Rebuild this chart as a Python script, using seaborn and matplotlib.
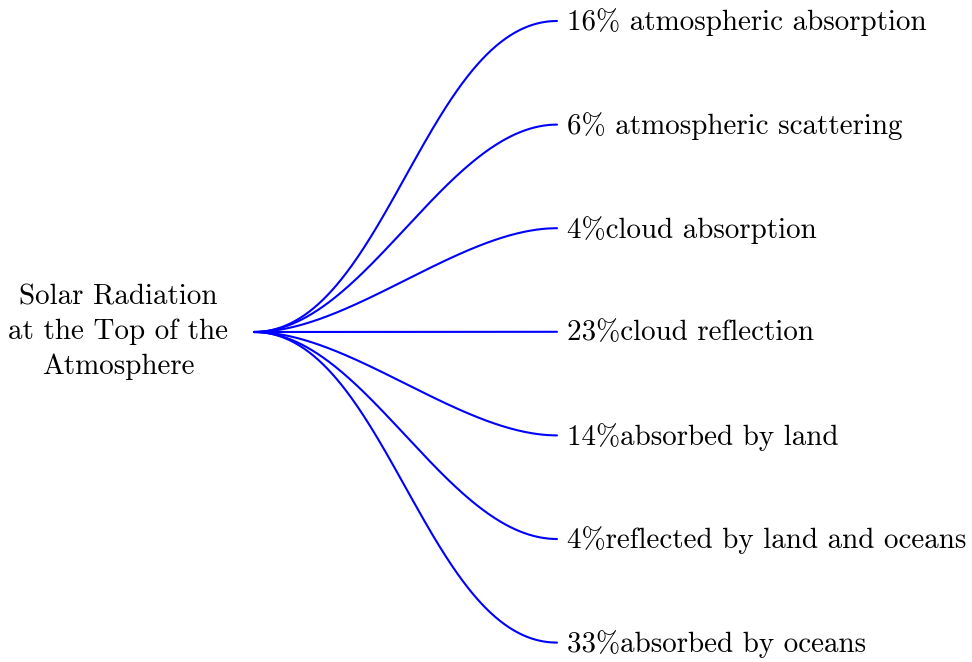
import numpy as np
import pandas as pd
import matplotlib.pyplot as plt
import seaborn as sns

# shares of the incoming solar radiation and where they go
percents = [16, 6, 4, 23, 14, 4, 33]
labels = ["16% atmospheric absorption",
          "6% atmospheric scattering",
          "4%cloud absorption",
          "23%cloud reflection",
          "14%absorbed by land",
          "4%reflected by land and oceans",
          "33%absorbed by oceans"]
root_label = "Solar Radiation\nat the Top of the\nAtmosphere"

# layout in pixel units
root_x, root_y = 254, 332
leaf_x = 557
leaf_top, leaf_step = 21, 103.6


def bezier(p0, p3, looseness=0.3):
    # tikz style "out=0, in=180" curve
    d = looseness * np.hypot(p3[0] - p0[0], p3[1] - p0[1])
    p1 = (p0[0] + d, p0[1])
    p2 = (p3[0] - d, p3[1])
    t = np.linspace(0, 1, 200)
    x = (1-t)**3*p0[0] + 3*(1-t)**2*t*p1[0] + 3*(1-t)*t**2*p2[0] + t**3*p3[0]
    y = (1-t)**3*p0[1] + 3*(1-t)**2*t*p1[1] + 3*(1-t)*t**2*p2[1] + t**3*p3[1]
    return x, y


rows = []
for i, lab in enumerate(labels):
    ly = leaf_top + i * leaf_step
    x, y = bezier((root_x, root_y), (leaf_x, ly))
    for k in range(len(x)):
        rows.append({"branch": lab, "order": k, "x": x[k], "y": y[k]})
df = pd.DataFrame(rows)

sns.set_style("white")
plt.rcParams['font.family'] = ['cmr10', 'DejaVu Serif']
plt.rcParams['mathtext.fontset'] = 'cm'
plt.rcParams['axes.formatter.use_mathtext'] = True

fig = plt.figure(figsize=(9.72, 6.62), dpi=100)
ax = fig.add_axes([0, 0, 1, 1])

sns.lineplot(data=df, x="x", y="y", units="branch", estimator=None, sort=False,
             color="#0000ff", linewidth=1.5, ax=ax)

for i, lab in enumerate(labels):
    ax.text(leaf_x + 10, leaf_top + i * leaf_step - 1.5, lab, fontsize=20.9,
            ha="left", va="center_baseline", color="black")

ax.text(118, root_y, root_label, fontsize=20.9, ha="center", va="center",
        multialignment="center", linespacing=1.4, color="black")

ax.set_xlim(0, 972)
ax.set_ylim(662, 0)
ax.axis("off")
ax.set_xlabel("")
ax.set_ylabel("")

fig.savefig("out.png", dpi=100)
